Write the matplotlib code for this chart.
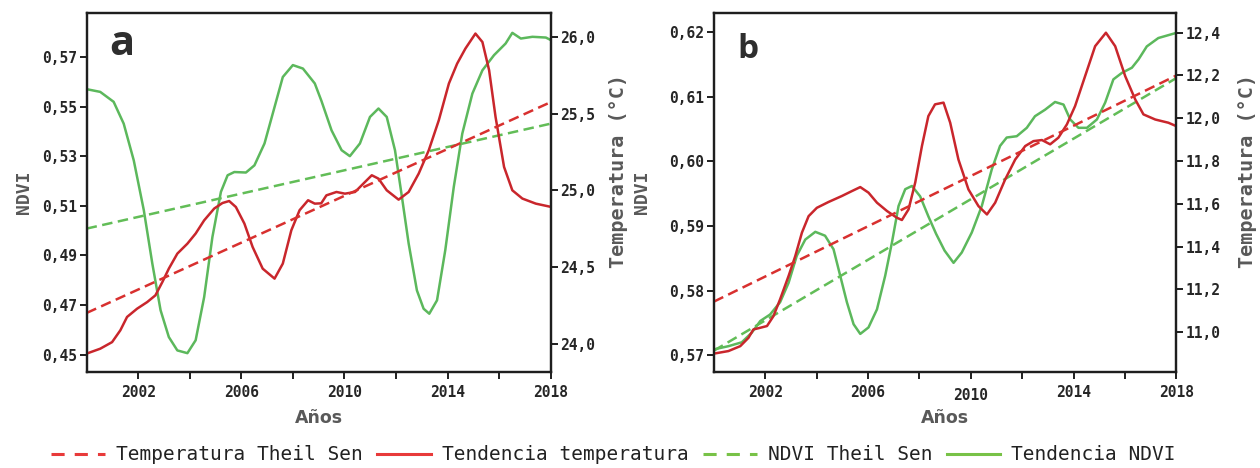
import matplotlib
matplotlib.use("Agg")
import matplotlib.pyplot as plt
from matplotlib.lines import Line2D
from matplotlib.ticker import FixedLocator, FuncFormatter

# ---------------- data: panel a ----------------
a_ndvi_years = [2000.0, 2000.53, 2001.05, 2001.44, 2001.83, 2002.22, 2002.55, 2002.87,
                2003.19, 2003.52, 2003.91, 2004.23, 2004.56, 2004.88, 2005.21, 2005.47,
                2005.73, 2006.18, 2006.51, 2006.9, 2007.29, 2007.61, 2008.0, 2008.39,
                2008.85, 2009.11, 2009.5, 2009.89, 2010.21, 2010.6, 2010.99, 2011.32,
                2011.64, 2011.96, 2012.23, 2012.49, 2012.81, 2013.07, 2013.29, 2013.59,
                2013.91, 2014.24, 2014.57, 2014.96, 2015.35, 2015.8, 2016.25, 2016.51,
                2016.84, 2017.29, 2017.81, 2018.0]
a_ndvi = [0.5570, 0.5559, 0.5519, 0.5431, 0.5283, 0.5082, 0.4867, 0.4679,
          0.4571, 0.4517, 0.4506, 0.4558, 0.4732, 0.4974, 0.5156, 0.5223,
          0.5236, 0.5234, 0.5263, 0.5351, 0.5498, 0.5619, 0.5667, 0.5653,
          0.5593, 0.5522, 0.5404, 0.5324, 0.5300, 0.5351, 0.5458, 0.5492,
          0.5458, 0.5324, 0.5135, 0.4948, 0.4759, 0.4685, 0.4665, 0.4719,
          0.4921, 0.5176, 0.5391, 0.5552, 0.5646, 0.5707, 0.5754, 0.5797,
          0.5774, 0.5781, 0.5778, 0.5768]

a_temp_years = [2000.0, 2000.53, 2000.99, 2001.31, 2001.57, 2001.96, 2002.35, 2002.67,
                2002.94, 2003.19, 2003.52, 2003.91, 2004.23, 2004.56, 2004.95, 2005.27,
                2005.53, 2005.79, 2006.12, 2006.44, 2006.83, 2007.29, 2007.61, 2007.94,
                2008.26, 2008.59, 2008.85, 2009.1, 2009.3, 2009.69, 2010.02, 2010.41,
                2010.73, 2011.06, 2011.32, 2011.64, 2012.1, 2012.49, 2012.88, 2013.27,
                2013.66, 2014.05, 2014.37, 2014.69, 2015.08, 2015.35, 2015.61, 2015.86,
                2016.19, 2016.51, 2016.9, 2017.42, 2018.0]
a_temp = [23.935, 23.967, 24.010, 24.087, 24.174, 24.228, 24.271, 24.315,
          24.402, 24.489, 24.587, 24.652, 24.718, 24.804, 24.881, 24.917,
          24.930, 24.891, 24.783, 24.630, 24.489, 24.424, 24.522, 24.739,
          24.870, 24.935, 24.913, 24.915, 24.967, 24.989, 24.978, 24.989,
          25.043, 25.098, 25.076, 25.000, 24.939, 24.989, 25.109, 25.261,
          25.457, 25.696, 25.826, 25.924, 26.022, 25.967, 25.783, 25.478,
          25.152, 25.000, 24.946, 24.913, 24.892]

# Theil-Sen trend lines (values at first and last year)
a_trend_years = [2000, 2018]
a_temp_theilsen = [24.20, 25.575]
a_ndvi_theilsen = [0.5008, 0.5431]

# ---------------- data: panel b ----------------
b_ndvi_years = [2000.0, 2000.57, 2001.09, 2001.48, 2001.81, 2002.19, 2002.58, 2002.91,
                2003.23, 2003.56, 2003.95, 2004.33, 2004.66, 2004.92, 2005.18, 2005.44,
                2005.7, 2006.02, 2006.35, 2006.67, 2006.93, 2007.19, 2007.45, 2007.71,
                2008.03, 2008.35, 2008.65, 2008.98, 2009.33, 2009.65, 2010.04, 2010.43,
                2010.82, 2011.14, 2011.4, 2011.79, 2012.18, 2012.5, 2012.89, 2013.28,
                2013.61, 2013.87, 2014.19, 2014.52, 2014.91, 2015.23, 2015.55, 2015.88,
                2016.27, 2016.53, 2016.85, 2017.3, 2018.0]
b_ndvi = [0.5709, 0.5714, 0.5720, 0.5735, 0.5753, 0.5763, 0.5782, 0.5812,
          0.5854, 0.5879, 0.5891, 0.5885, 0.5864, 0.5823, 0.5782, 0.5748,
          0.5733, 0.5743, 0.5771, 0.5823, 0.5874, 0.5931, 0.5957, 0.5962,
          0.5946, 0.5915, 0.5888, 0.5862, 0.5843, 0.5859, 0.5890, 0.5931,
          0.5988, 0.6024, 0.6037, 0.6039, 0.6052, 0.6070, 0.6080, 0.6092,
          0.6088, 0.6065, 0.6052, 0.6052, 0.6065, 0.6091, 0.6127, 0.6137,
          0.6145, 0.6158, 0.6178, 0.6191, 0.6199]

b_temp_years = [2000.0, 2000.57, 2001.03, 2001.35, 2001.54, 2001.81, 2002.07, 2002.32,
                2002.58, 2002.91, 2003.17, 2003.43, 2003.69, 2004.01, 2004.46, 2004.98,
                2005.37, 2005.7, 2006.02, 2006.35, 2006.74, 2007.12, 2007.32, 2007.58,
                2007.84, 2008.1, 2008.35, 2008.61, 2008.94, 2009.2, 2009.52, 2009.91,
                2010.3, 2010.63, 2010.95, 2011.34, 2011.73, 2012.12, 2012.44, 2012.77,
                2013.09, 2013.41, 2013.74, 2014.06, 2014.45, 2014.84, 2015.26, 2015.62,
                2016.01, 2016.4, 2016.72, 2017.18, 2017.69, 2018.0]
b_temp = [10.899, 10.911, 10.934, 10.973, 11.012, 11.020, 11.028, 11.074,
          11.153, 11.262, 11.355, 11.465, 11.542, 11.581, 11.608, 11.636,
          11.659, 11.678, 11.652, 11.605, 11.566, 11.535, 11.524, 11.574,
          11.700, 11.870, 12.010, 12.065, 12.073, 11.979, 11.807, 11.667,
          11.589, 11.550, 11.605, 11.714, 11.807, 11.870, 11.893, 11.898,
          11.878, 11.909, 11.971, 12.057, 12.197, 12.337, 12.400, 12.337,
          12.197, 12.088, 12.018, 11.994, 11.979, 11.963]

b_trend_years = [2000, 2018]
b_temp_theilsen = [11.142, 12.200]
b_ndvi_theilsen = [0.5707, 0.6129]

# axis ticks / labels
year_ticks = list(range(2002, 2019, 2))
year_labels = [str(y) if (y - 2002) % 4 == 0 else "" for y in year_ticks]
a_ndvi_ticks = [0.45, 0.47, 0.49, 0.51, 0.53, 0.55, 0.57]
a_temp_ticks = [24.0, 24.5, 25.0, 25.5, 26.0]
b_ndvi_ticks = [0.57, 0.58, 0.59, 0.60, 0.61, 0.62]
b_temp_ticks = [11.0, 11.2, 11.4, 11.6, 11.8, 12.0, 12.2, 12.4]

legend_labels = ["Temperatura Theil Sen", "Tendencia temperatura",
                 "NDVI Theil Sen", "Tendencia NDVI"]

# ---------------- styling ----------------
RED = "#c9262c"
RED_DASH = "#d8302f"
GREEN = "#5cb85c"
GREEN_DASH = "#62bd57"
LEG_RED = "#e83a3a"
LEG_GREEN = "#78c247"
TICK_C = "#262626"
LABEL_C = "#595959"
MONO = "DejaVu Sans Mono"
LW = 1.8
DASH = (0, (4.2, 2.2))
LEG_DASH = (0, (4.3, 3.3))

fig = plt.figure(figsize=(12.6, 4.68), dpi=100)


def comma_fmt(decimals):
    return FuncFormatter(lambda v, p: f"{v:.{decimals}f}".replace(".", ","))


def style_axis(ax, side):
    for s in ax.spines.values():
        s.set_linewidth(1.6)
        s.set_color("#1e1e1e")
    ax.tick_params(axis="y", direction="out", length=5, width=1.4, pad=2,
                   labelsize=10.5, labelcolor=TICK_C, color="#1e1e1e",
                   left=(side == "left"), right=(side == "right"),
                   labelleft=(side == "left"), labelright=(side == "right"))
    for lbl in ax.get_yticklabels():
        lbl.set_fontfamily(MONO)
        lbl.set_fontweight("bold")


def make_panel(rect, ndvi_years, ndvi, temp_years, temp, trend_years,
               temp_ts, ndvi_ts, ndvi_lim, temp_lim, ndvi_ticks, temp_ticks,
               letter, letter_xy, letter_size, ndvi_label_x, temp_label_x):
    ax = fig.add_axes(rect)
    ax.plot(ndvi_years, ndvi, color=GREEN, lw=LW, solid_capstyle="round")
    ax.plot(trend_years, ndvi_ts, color=GREEN_DASH, lw=LW, linestyle=DASH)
    ax.set_xlim(2000, 2018)
    ax.set_ylim(*ndvi_lim)
    ax.yaxis.set_major_locator(FixedLocator(ndvi_ticks))
    ax.yaxis.set_major_formatter(comma_fmt(2))
    ax.xaxis.set_major_locator(FixedLocator(year_ticks))
    ax.set_xticklabels(year_labels)
    ax.tick_params(axis="x", direction="out", length=5, width=1.4, pad=4,
                   labelsize=10.5, labelcolor=TICK_C, color="#1e1e1e")
    for lbl in ax.get_xticklabels():
        lbl.set_fontfamily(MONO)
        lbl.set_fontweight("bold")
    style_axis(ax, "left")

    ax2 = ax.twinx()
    ax2.plot(temp_years, temp, color=RED, lw=LW, solid_capstyle="round")
    ax2.plot(trend_years, temp_ts, color=RED_DASH, lw=LW, linestyle=DASH)
    ax2.set_ylim(*temp_lim)
    ax2.yaxis.set_major_locator(FixedLocator(temp_ticks))
    ax2.yaxis.set_major_formatter(comma_fmt(1))
    style_axis(ax2, "right")

    ax.set_ylabel("NDVI", family=MONO, weight="bold", fontsize=13,
                  color=LABEL_C, va="center")
    ax.yaxis.set_label_coords(ndvi_label_x, 0.5)
    ax2.set_ylabel("Temperatura (°C)", family=MONO, weight="bold", fontsize=14.5,
                   color=LABEL_C, rotation=90, va="center")
    ax2.yaxis.set_label_coords(temp_label_x, 0.56)
    ax.set_xlabel("Años", family="DejaVu Sans", weight="bold", fontsize=12.5,
                  color=LABEL_C)
    ax.xaxis.set_label_coords(0.5, -0.104)

    ax.text(letter_xy[0], letter_xy[1], letter, transform=ax.transAxes,
            family="Open Sans", weight="bold", fontsize=letter_size,
            color="#2e2e2e", va="baseline", ha="left", zorder=5)
    return ax, ax2


ax_a, ax_a2 = make_panel([0.0687, 0.2051, 0.3684, 0.7661],
                         a_ndvi_years, a_ndvi, a_temp_years, a_temp, a_trend_years,
                         a_temp_theilsen, a_ndvi_theilsen,
                         (0.443, 0.5875), (23.815, 26.153),
                         a_ndvi_ticks, a_temp_ticks,
                         "a", (0.048, 0.884), 30, -0.1346, 1.147)

ax_b, ax_b2 = make_panel([0.5665, 0.2051, 0.3671, 0.7661],
                         b_ndvi_years, b_ndvi, b_temp_years, b_temp, b_trend_years,
                         b_temp_theilsen, b_ndvi_theilsen,
                         (0.5674, 0.6229), (10.813, 12.49),
                         b_ndvi_ticks, b_temp_ticks,
                         "b", (0.05, 0.876), 24, -0.155, 1.153)

# the 2010 label of panel b sits a little lower
for tick, yr in zip(ax_b.xaxis.get_major_ticks(), year_ticks):
    if yr == 2010:
        tick.set_pad(6.5)

handles = [
    Line2D([], [], color=LEG_RED, lw=2.2, linestyle=LEG_DASH),
    Line2D([], [], color=LEG_RED, lw=2.2),
    Line2D([], [], color=LEG_GREEN, lw=2.2, linestyle=LEG_DASH),
    Line2D([], [], color=LEG_GREEN, lw=2.2),
]
fig.legend(handles, legend_labels, loc="center", bbox_to_anchor=(0.487, 0.028),
           ncol=4, frameon=False, handlelength=2.75, handletextpad=0.57,
           columnspacing=0.75, prop={"family": MONO, "size": 14},
           labelcolor="#222222", borderaxespad=0, borderpad=0)

fig.savefig("out.png", dpi=100, facecolor="white")
